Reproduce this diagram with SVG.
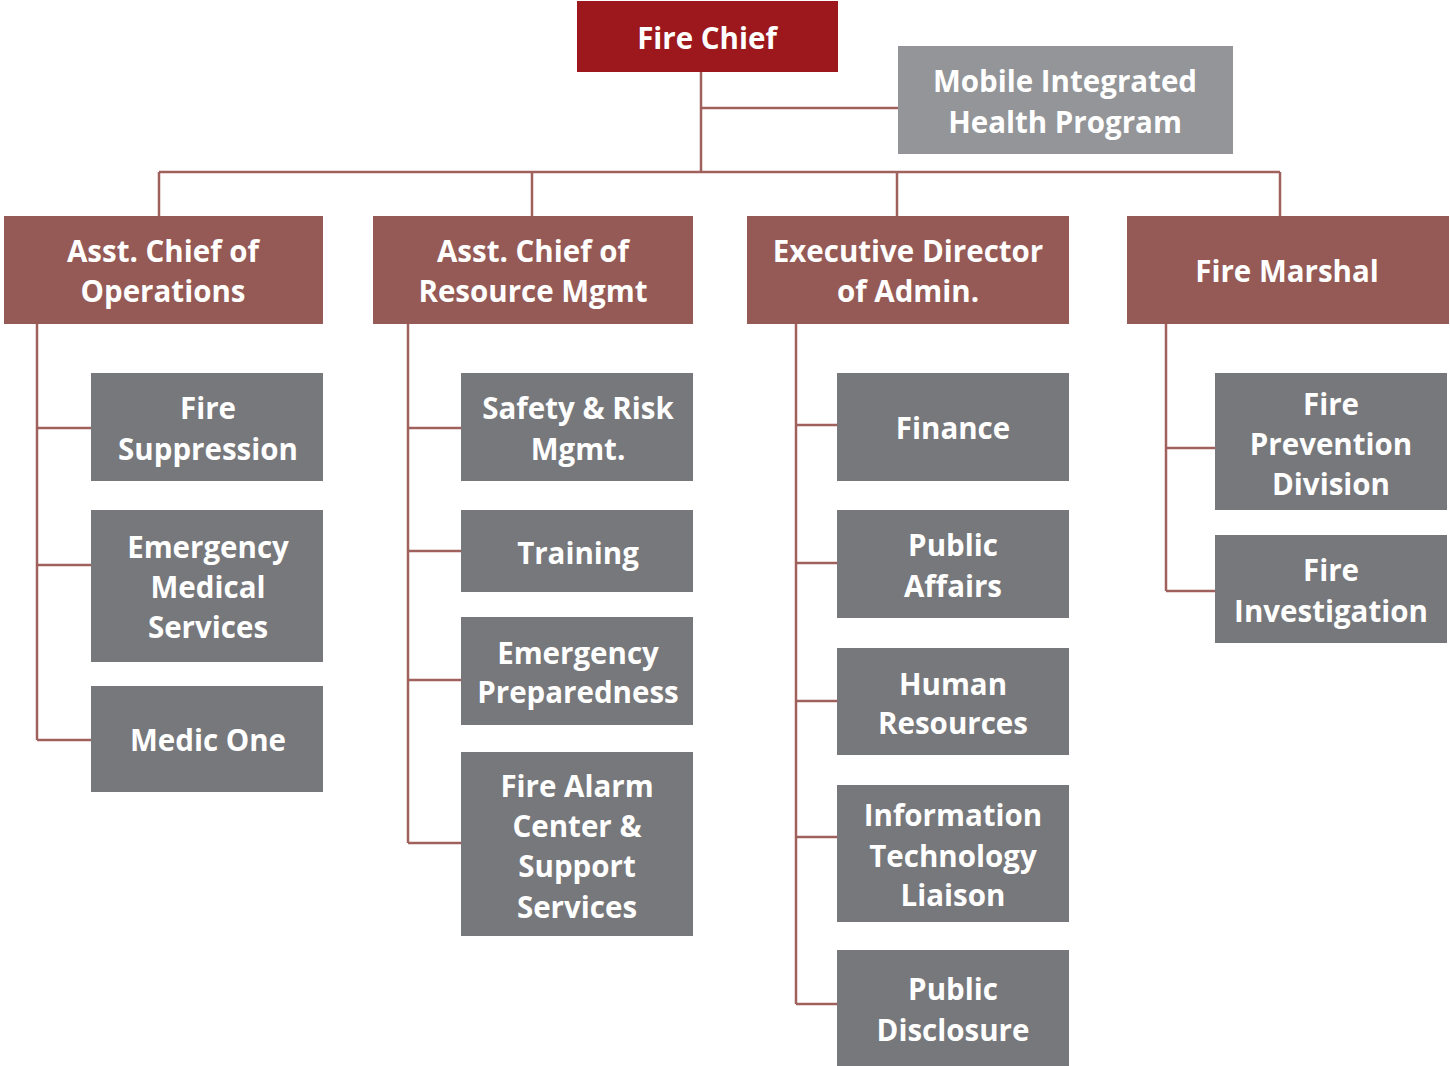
<svg xmlns="http://www.w3.org/2000/svg" width="1450" height="1066" viewBox="0 0 1450 1066">
<style>
.t{font-family:"Open Sans","Liberation Sans",sans-serif;font-weight:700;font-size:29.5px;fill:#fff;text-anchor:middle}
.chief{fill:#9c181c}
.mgr{fill:#955a55}
.sub{fill:#77787b}
.mih{fill:#939598}
.c{stroke:#a0605c;stroke-width:2.5;fill:none}
</style>
<rect width="1450" height="1066" fill="#fff"/>
<g id="connectors">
<path class="c" d="M701 72V172M701 108H898M159 172H1280M159 172V216M532 172V216M897 172V216M1280 172V216"/>
<path class="c" d="M37 324V740M37 428H91M37 565H91M37 740H91"/>
<path class="c" d="M408 324V843M408 428H461M408 551H461M408 680H461M408 843H461"/>
<path class="c" d="M796 324V1004M796 425H837M796 563H837M796 701H837M796 837H837M796 1004H837"/>
<path class="c" d="M1166 324V591M1166 448H1215M1166 591H1215"/>
</g>
<g id="fire-chief"><rect class="chief" x="577" y="1" width="261" height="71"/><text class="t" x="707" y="49">Fire Chief</text></g>
<g id="mobile-integrated"><rect class="mih" x="898" y="46" width="335" height="108"/><text class="t" x="1065" y="92">Mobile Integrated</text><text class="t" x="1065" y="133">Health Program</text></g>
<g id="asst-ops"><rect class="mgr" x="4" y="216" width="319" height="108"/><text class="t" x="163" y="262">Asst. Chief of</text><text class="t" x="163" y="302">Operations</text></g>
<g id="asst-resource"><rect class="mgr" x="373" y="216" width="320" height="108"/><text class="t" x="533" y="262">Asst. Chief of</text><text class="t" x="533" y="302">Resource Mgmt</text></g>
<g id="exec-admin"><rect class="mgr" x="747" y="216" width="322" height="108"/><text class="t" x="908" y="262">Executive Director</text><text class="t" x="908" y="302">of Admin.</text></g>
<g id="fire-marshal"><rect class="mgr" x="1127" y="216" width="322" height="108"/><text class="t" x="1287" y="282">Fire Marshal</text></g>
<g id="fire-suppression"><rect class="sub" x="91" y="373" width="232" height="108"/><text class="t" x="208" y="419">Fire</text><text class="t" x="208" y="460">Suppression</text></g>
<g id="ems"><rect class="sub" x="91" y="510" width="232" height="152"/><text class="t" x="208" y="558">Emergency</text><text class="t" x="208" y="598">Medical</text><text class="t" x="208" y="638">Services</text></g>
<g id="medic-one"><rect class="sub" x="91" y="686" width="232" height="106"/><text class="t" x="208" y="751">Medic One</text></g>
<g id="safety"><rect class="sub" x="461" y="373" width="232" height="108"/><text class="t" x="578" y="419">Safety &amp; Risk</text><text class="t" x="578" y="460">Mgmt.</text></g>
<g id="training"><rect class="sub" x="461" y="510" width="232" height="82"/><text class="t" x="578" y="564">Training</text></g>
<g id="emergency-prep"><rect class="sub" x="461" y="617" width="232" height="108"/><text class="t" x="578" y="664">Emergency</text><text class="t" x="578" y="703">Preparedness</text></g>
<g id="fire-alarm"><rect class="sub" x="461" y="752" width="232" height="184"/><text class="t" x="577" y="797">Fire Alarm</text><text class="t" x="577" y="837">Center &amp;</text><text class="t" x="577" y="877">Support</text><text class="t" x="577" y="918">Services</text></g>
<g id="finance"><rect class="sub" x="837" y="373" width="232" height="108"/><text class="t" x="953" y="439">Finance</text></g>
<g id="public-affairs"><rect class="sub" x="837" y="510" width="232" height="108"/><text class="t" x="953" y="556">Public</text><text class="t" x="953" y="597">Affairs</text></g>
<g id="human-resources"><rect class="sub" x="837" y="648" width="232" height="107"/><text class="t" x="953" y="695">Human</text><text class="t" x="953" y="734">Resources</text></g>
<g id="it-liaison"><rect class="sub" x="837" y="785" width="232" height="137"/><text class="t" x="953" y="826">Information</text><text class="t" x="953" y="867">Technology</text><text class="t" x="953" y="906">Liaison</text></g>
<g id="public-disclosure"><rect class="sub" x="837" y="950" width="232" height="116"/><text class="t" x="953" y="1000">Public</text><text class="t" x="953" y="1041">Disclosure</text></g>
<g id="fire-prevention"><rect class="sub" x="1215" y="373" width="232" height="137"/><text class="t" x="1331" y="415">Fire</text><text class="t" x="1331" y="455">Prevention</text><text class="t" x="1331" y="495">Division</text></g>
<g id="fire-investigation"><rect class="sub" x="1215" y="535" width="232" height="108"/><text class="t" x="1331" y="581">Fire</text><text class="t" x="1331" y="622">Investigation</text></g>
</svg>
